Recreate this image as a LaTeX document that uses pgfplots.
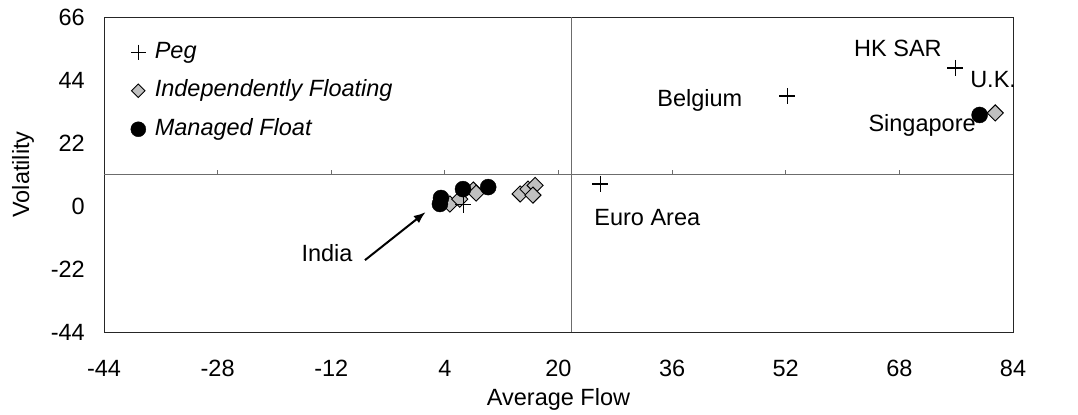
\documentclass[border=0pt]{standalone}
\usepackage{fontspec}
\setmainfont{Liberation Sans}
\usepackage{pgfplots}
\pgfplotsset{compat=1.18}
\usetikzlibrary{arrows.meta}
\definecolor{diamgray}{RGB}{192,192,192}
\begin{document}
\begin{tikzpicture}[font=\fontsize{23.5bp}{27bp}\selectfont]
\useasboundingbox (-104bp,-83bp) rectangle (974bp,332bp);
\begin{axis}[
  at={(0,0)}, anchor=south west,
  scale only axis, width=909bp, height=315bp,
  xmin=-44, xmax=84, ymin=-44, ymax=66,
  xtick={-44,-28,-12,4,20,36,52,68,84},
  ytick={-44,-22,0,22,44,66},
  major tick length=0pt,
  axis line style={black!85, line width=0.9bp},
  /pgf/number format/assume math mode=true,
  xticklabel style={anchor=base, yshift=-44bp, inner sep=0pt},
  yticklabel style={anchor=east, xshift=-19bp, inner sep=0pt},
  xlabel={Average Flow},
  ylabel={Volatility},
  xlabel style={at={(axis description cs:0.5,-0.232)}, anchor=base, inner sep=0pt},
  ylabel style={at={(axis description cs:-0.0891,0.5)}, anchor=center, inner sep=0pt},
  clip=false,
  legend cell align=left,
  legend style={draw=none, fill=none, at={(axis description cs:0.026,0.93)}, anchor=north west,
    font=\fontsize{23.5bp}{27bp}\selectfont\itshape,
    nodes={inner sep=0pt, text height=17bp, text depth=5bp},
    row sep=16.5bp, column sep=9bp},
]
% crosshair lines
\draw[gray!85!black, line width=1bp] (axis cs:21.9,-44) -- (axis cs:21.9,66);
\draw[gray!85!black, line width=1bp] (axis cs:-44,11) -- (axis cs:84,11);
\pgfplotsinvokeforeach{-28,-12,4,20,36,52,68}{
  \draw[gray!85!black, line width=1bp] (axis cs:#1,11) -- ([yshift=5bp]axis cs:#1,11);
}
\addlegendimage{only marks, mark=+, black, mark size=7.5bp, line width=1.2bp}
\addlegendentry{Peg}
\addlegendimage{only marks, mark=square*, mark options={rotate=45, fill=diamgray, draw=black, line width=0.9bp}, mark size=4.8bp}
\addlegendentry{Independently Floating}
\addlegendimage{only marks, mark=*, mark options={fill=black, draw=black}, mark size=7.5bp}
\addlegendentry{Managed Float}
% Independently floating
\addplot[forget plot, only marks, mark=square*, mark options={rotate=45, fill=diamgray, draw=black, line width=0.9bp}, mark size=5.7bp]
coordinates {(4.7,0.7) (6.1,2.4) (8.0,5.6) (8.4,4.5) (14.6,4.2) (15.7,5.9) (16.7,7.2) (16.4,3.8) (81.5,32.5)};
% Managed float
\addplot[forget plot, only marks, mark=*, mark options={fill=black, draw=black}, mark size=8bp]
coordinates {(3.45,2.8) (3.3,0.7) (6.55,5.9) (10.1,6.6) (79.3,31.8)};
% Peg
\addplot[forget plot, only marks, mark=+, black, mark size=8bp, line width=1.2bp]
coordinates {(25.9,7.7) (52.2,38.4) (75.9,48.2) (6.6,0.5)};
% annotations
\node at (axis cs:67.8,55.2) {HK SAR};
\node at (axis cs:81.2,44) {U.K.};
\node at (axis cs:39.9,37) {Belgium};
\node at (axis cs:71.2,28.3) {Singapore};
\node at (axis cs:32.5,-4.2) {Euro Area};
\node at (axis cs:-12.6,-16.4) {India};
\draw[-{Latex[length=12bp,width=9bp]}, line width=2bp] (axis cs:-7.25,-18.9) -- (axis cs:1.3,-2.1);
\end{axis}
\begin{axis}[
  at={(0,0)}, anchor=south west,
  scale only axis, width=909bp, height=315bp,
  xmin=-44, xmax=84, ymin=-44, ymax=66,
  axis lines=none,
  hide x axis,
  ytick={-44,-22,0,22,44,66},
  major tick length=0pt,
  yticklabel pos=right,
  /pgf/number format/assume math mode=true,
  yticklabel style={anchor=west, xshift=20bp, inner sep=0pt},
]
\addplot[draw=none, forget plot] coordinates {(0,0)};
\end{axis}
\end{tikzpicture}
\end{document}
